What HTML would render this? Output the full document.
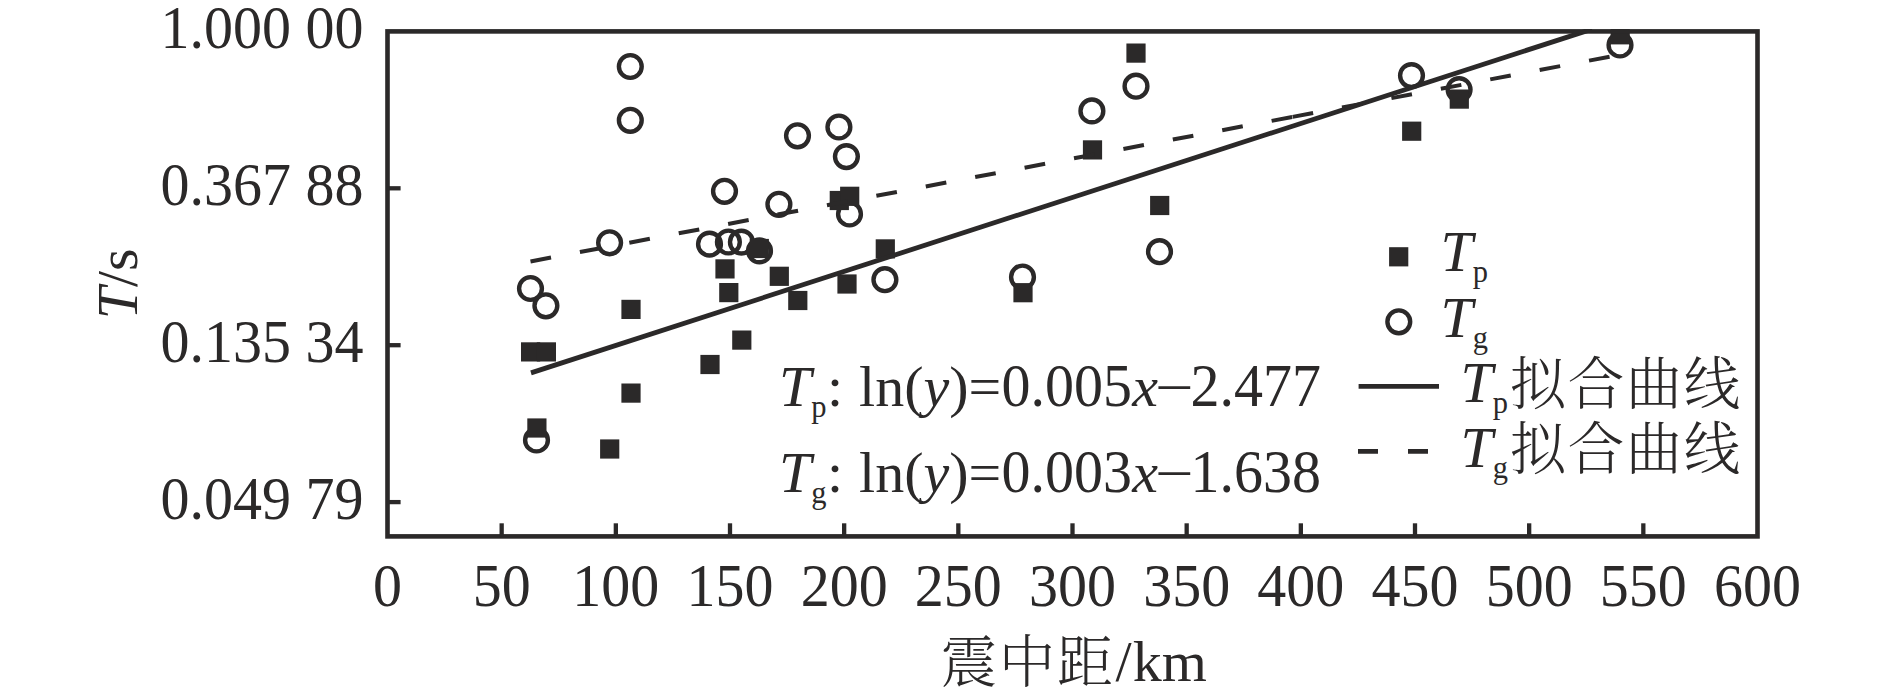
<!DOCTYPE html>
<html lang="zh"><head><meta charset="utf-8"><title>T/s - 震中距/km</title>
<style>
html,body{margin:0;padding:0;background:#fff;}
body{width:1890px;height:700px;overflow:hidden;}
svg{display:block;}
text{font-family:"Liberation Serif","Noto Serif CJK SC",serif;font-size:58px;fill:#2b2929;}
.it{font-style:italic;}
.sub{font-size:30.5px;}
.cj{font-family:"Liberation Serif","Noto Serif CJK SC",serif;font-weight:300;font-size:56.5px;letter-spacing:1.5px;}
</style></head><body>
<svg width="1890" height="700" viewBox="0 0 1890 700">
<rect x="0" y="0" width="1890" height="700" fill="#fff"/>
<defs><clipPath id="pc"><rect x="387.5" y="29.1" width="1370.0" height="507.3"/></clipPath></defs>
<g clip-path="url(#pc)">
<g fill="none" stroke="#2b2929" stroke-width="4.40">
<circle cx="630.3" cy="66.5" r="11.40"/>
<circle cx="630.3" cy="120.3" r="11.40"/>
<circle cx="797.5" cy="135.8" r="11.40"/>
<circle cx="838.9" cy="127.0" r="11.40"/>
<circle cx="846.4" cy="156.6" r="11.40"/>
<circle cx="1091.9" cy="110.9" r="11.40"/>
<circle cx="1136.0" cy="86.2" r="11.40"/>
<circle cx="1411.5" cy="75.6" r="11.40"/>
<circle cx="1459.1" cy="89.6" r="11.40"/>
<circle cx="1620.0" cy="45.0" r="11.40"/>
<circle cx="724.5" cy="191.3" r="11.40"/>
<circle cx="609.6" cy="242.8" r="11.40"/>
<circle cx="709.5" cy="244.1" r="11.40"/>
<circle cx="728.4" cy="242.0" r="11.40"/>
<circle cx="741.4" cy="242.1" r="11.40"/>
<circle cx="530.5" cy="288.5" r="11.40"/>
<circle cx="545.9" cy="305.8" r="11.40"/>
<circle cx="778.9" cy="204.3" r="11.40"/>
<circle cx="849.5" cy="214.0" r="11.40"/>
<circle cx="884.9" cy="279.7" r="11.40"/>
<circle cx="1022.5" cy="277.0" r="11.40"/>
<circle cx="759.5" cy="250.9" r="11.40"/>
<circle cx="536.5" cy="440.0" r="11.40"/>
<circle cx="1159.5" cy="251.7" r="11.40"/>
</g>
<g fill="#2b2929">
<rect x="1126.4" y="43.5" width="19.2" height="19.2"/>
<rect x="1082.9" y="140.3" width="19.2" height="19.2"/>
<rect x="1402.1" y="121.6" width="19.2" height="19.2"/>
<rect x="1449.7" y="89.5" width="19.2" height="19.2"/>
<rect x="1610.6" y="25.2" width="19.2" height="19.2"/>
<rect x="715.4" y="259.3" width="19.2" height="19.2"/>
<rect x="719.2" y="283.0" width="19.2" height="19.2"/>
<rect x="829.7" y="190.9" width="19.2" height="19.2"/>
<rect x="840.1" y="186.7" width="19.2" height="19.2"/>
<rect x="875.7" y="239.3" width="19.2" height="19.2"/>
<rect x="769.7" y="266.7" width="19.2" height="19.2"/>
<rect x="837.4" y="274.4" width="19.2" height="19.2"/>
<rect x="788.2" y="290.9" width="19.2" height="19.2"/>
<rect x="1013.4" y="283.1" width="19.2" height="19.2"/>
<rect x="621.4" y="299.8" width="19.2" height="19.2"/>
<rect x="521.0" y="342.3" width="19.2" height="19.2"/>
<rect x="536.8" y="342.3" width="19.2" height="19.2"/>
<rect x="732.2" y="330.5" width="19.2" height="19.2"/>
<rect x="700.4" y="354.9" width="19.2" height="19.2"/>
<rect x="621.4" y="383.5" width="19.2" height="19.2"/>
<rect x="527.3" y="418.4" width="19.2" height="19.2"/>
<rect x="600.1" y="439.4" width="19.2" height="19.2"/>
<rect x="1150.1" y="195.9" width="19.2" height="19.2"/>
<rect x="749.7" y="238.9" width="19.2" height="19.2"/>
</g>
<g stroke="#2b2929" stroke-width="4.0" fill="none" stroke-dasharray="20.9 29.39">
<line x1="530.5" y1="261.43" x2="1292.3" y2="116.92"/>
<line x1="1292.6" y1="116.86" x2="1609.6" y2="56.73"/>
</g>
<line x1="531" y1="372.9" x2="1592" y2="29.1" stroke="#2b2929" stroke-width="4.8"/>
</g>
<rect x="387.5" y="31.4" width="1370.0" height="505.0" fill="none" stroke="#2b2929" stroke-width="4.6"/>
<g stroke="#2b2929" stroke-width="4.3">
<line x1="501.67" y1="536.4" x2="501.67" y2="523.3"/>
<line x1="615.83" y1="536.4" x2="615.83" y2="523.3"/>
<line x1="730.00" y1="536.4" x2="730.00" y2="523.3"/>
<line x1="844.17" y1="536.4" x2="844.17" y2="523.3"/>
<line x1="958.33" y1="536.4" x2="958.33" y2="523.3"/>
<line x1="1072.50" y1="536.4" x2="1072.50" y2="523.3"/>
<line x1="1186.67" y1="536.4" x2="1186.67" y2="523.3"/>
<line x1="1300.83" y1="536.4" x2="1300.83" y2="523.3"/>
<line x1="1415.00" y1="536.4" x2="1415.00" y2="523.3"/>
<line x1="1529.17" y1="536.4" x2="1529.17" y2="523.3"/>
<line x1="1643.33" y1="536.4" x2="1643.33" y2="523.3"/>
<line x1="387.5" y1="188.30" x2="400.6" y2="188.30"/>
<line x1="387.5" y1="345.20" x2="400.6" y2="345.20"/>
<line x1="387.5" y1="502.10" x2="400.6" y2="502.10"/>
</g>
<text transform="translate(387.50 606.00) scale(1 1.060)" text-anchor="middle">0</text>
<text transform="translate(501.67 606.00) scale(1 1.060)" text-anchor="middle">50</text>
<text transform="translate(615.83 606.00) scale(1 1.060)" text-anchor="middle">100</text>
<text transform="translate(730.00 606.00) scale(1 1.060)" text-anchor="middle">150</text>
<text transform="translate(844.17 606.00) scale(1 1.060)" text-anchor="middle">200</text>
<text transform="translate(958.33 606.00) scale(1 1.060)" text-anchor="middle">250</text>
<text transform="translate(1072.50 606.00) scale(1 1.060)" text-anchor="middle">300</text>
<text transform="translate(1186.67 606.00) scale(1 1.060)" text-anchor="middle">350</text>
<text transform="translate(1300.83 606.00) scale(1 1.060)" text-anchor="middle">400</text>
<text transform="translate(1415.00 606.00) scale(1 1.060)" text-anchor="middle">450</text>
<text transform="translate(1529.17 606.00) scale(1 1.060)" text-anchor="middle">500</text>
<text transform="translate(1643.33 606.00) scale(1 1.060)" text-anchor="middle">550</text>
<text transform="translate(1757.50 606.00) scale(1 1.060)" text-anchor="middle">600</text>
<text transform="translate(363.50 48.00) scale(1 1.060)" text-anchor="end">1.000 00</text>
<text transform="translate(363.50 204.90) scale(1 1.060)" text-anchor="end">0.367 88</text>
<text transform="translate(363.50 361.80) scale(1 1.060)" text-anchor="end">0.135 34</text>
<text transform="translate(363.50 518.70) scale(1 1.060)" text-anchor="end">0.049 79</text>
<text transform="translate(137.4 283.9) rotate(-90)" text-anchor="middle"><tspan class="it">T</tspan>/s</text>
<text x="940.7" y="682" class="cj">震中距</text>
<text x="1115.5" y="681">/<tspan dx="1">km</tspan></text>
<text x="779" y="406.0"><tspan class="it">T</tspan><tspan class="sub" dy="11">p</tspan><tspan dy="-11" dx="0.5">:</tspan><tspan x="859.1">ln(</tspan><tspan class="it">y</tspan>)=</text>
<text transform="translate(1001.50 406.00) scale(1 1.060)" text-anchor="start">0.005</text>
<text x="1132.2" y="406.0" class="it">x</text>
<text transform="translate(1154.9 407.3) scale(1.177 1)">−</text>
<text transform="translate(1190.50 406.00) scale(1 1.060)" text-anchor="start">2.477</text>
<text x="779" y="491.5"><tspan class="it">T</tspan><tspan class="sub" dy="11">g</tspan><tspan dy="-11" dx="0.5">:</tspan><tspan x="859.1">ln(</tspan><tspan class="it">y</tspan>)=</text>
<text transform="translate(1001.50 491.50) scale(1 1.060)" text-anchor="start">0.003</text>
<text x="1132.2" y="491.5" class="it">x</text>
<text transform="translate(1154.9 492.8) scale(1.177 1)">−</text>
<text transform="translate(1190.50 491.50) scale(1 1.060)" text-anchor="start">1.638</text>
<rect x="1389.1" y="247.2" width="19.2" height="19.2" fill="#2b2929"/>
<circle cx="1398.8" cy="321.8" r="11.40" fill="none" stroke="#2b2929" stroke-width="4.40"/>
<text x="1440.5" y="271"><tspan class="it">T</tspan><tspan class="sub" dy="11">p</tspan></text>
<text x="1440.5" y="337"><tspan class="it">T</tspan><tspan class="sub" dy="11">g</tspan></text>
<line x1="1358.6" y1="386.4" x2="1439" y2="386.4" stroke="#2b2929" stroke-width="4.6"/>
<line x1="1358" y1="451.4" x2="1439" y2="451.4" stroke="#2b2929" stroke-width="4.6" stroke-dasharray="20 30"/>
<text x="1460.5" y="402"><tspan class="it">T</tspan><tspan class="sub" dy="11">p</tspan><tspan class="cj" dy="-9" x="1509.7">拟合曲线</tspan></text>
<text x="1460.5" y="467"><tspan class="it">T</tspan><tspan class="sub" dy="11">g</tspan><tspan class="cj" dy="-9" x="1509.7">拟合曲线</tspan></text>
</svg>
</body></html>
